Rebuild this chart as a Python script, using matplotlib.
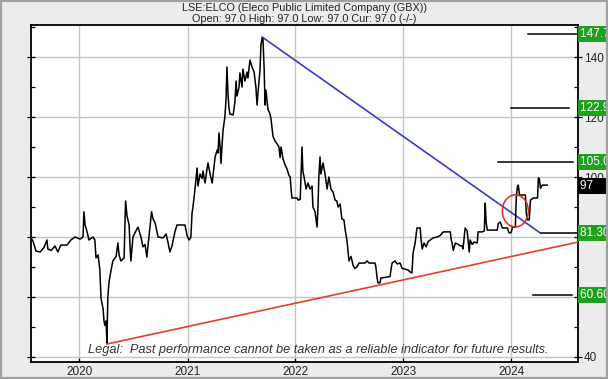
import matplotlib
matplotlib.use("Agg")
import matplotlib.pyplot as plt
import matplotlib.dates as mdates
from matplotlib.patches import Ellipse, Rectangle
from matplotlib.ticker import FixedLocator, MultipleLocator
import pandas as pd

plt.rcParams['font.family'] = ['Liberation Sans', 'DejaVu Sans']

title = "LSE:ELCO (Eleco Public Limited Company (GBX))"
subtitle = "Open: 97.0 High: 97.0 Low: 97.0 Cur: 97.0 (-/-)"
legal = "Legal:  Past performance cannot be taken as a reliable indicator for future results."

price_dates = [
    "2019-07-21", "2019-07-28", "2019-08-07", "2019-08-21", "2019-09-03", "2019-09-13", "2019-09-16",
    "2019-09-27", "2019-10-10", "2019-10-20", "2019-10-30", "2019-11-20", "2019-12-03", "2019-12-17",
    "2020-01-03", "2020-01-13", "2020-01-16", "2020-01-20", "2020-01-26", "2020-02-02", "2020-02-16",
    "2020-02-22", "2020-02-26", "2020-03-04", "2020-03-10", "2020-03-14", "2020-03-21", "2020-03-24",
    "2020-03-27", "2020-03-31", "2020-04-03", "2020-04-06", "2020-04-10", "2020-04-17", "2020-04-23",
    "2020-05-04", "2020-05-10", "2020-05-14", "2020-05-20", "2020-05-31", "2020-06-05", "2020-06-10",
    "2020-06-17", "2020-06-20", "2020-06-23", "2020-06-30", "2020-07-10", "2020-07-17", "2020-07-27",
    "2020-08-03", "2020-08-10", "2020-08-16", "2020-08-23", "2020-09-01", "2020-09-06", "2020-09-13",
    "2020-09-23", "2020-10-10", "2020-10-20", "2020-10-27", "2020-11-02", "2020-11-09", "2020-11-19",
    "2020-11-26", "2020-12-23", "2020-12-30", "2021-01-06", "2021-01-12", "2021-01-16", "2021-01-19",
    "2021-01-26", "2021-02-02", "2021-02-05", "2021-02-12", "2021-02-19", "2021-02-22", "2021-03-01",
    "2021-03-08", "2021-03-11", "2021-03-18", "2021-03-25", "2021-03-28", "2021-04-04", "2021-04-11",
    "2021-04-14", "2021-04-17", "2021-04-21", "2021-04-24", "2021-04-27", "2021-05-01", "2021-05-07",
    "2021-05-11", "2021-05-14", "2021-05-18", "2021-05-21", "2021-05-24", "2021-06-04", "2021-06-10",
    "2021-06-14", "2021-06-17", "2021-06-24", "2021-06-27", "2021-07-04", "2021-07-07", "2021-07-14",
    "2021-07-21", "2021-07-24", "2021-07-31", "2021-08-07", "2021-08-14", "2021-08-20", "2021-08-24",
    "2021-08-27", "2021-09-03", "2021-09-06", "2021-09-10", "2021-09-13", "2021-09-17", "2021-09-20",
    "2021-09-23", "2021-09-27", "2021-09-30", "2021-10-07", "2021-10-10", "2021-10-14", "2021-10-17",
    "2021-10-24", "2021-10-31", "2021-11-06", "2021-11-10", "2021-11-13", "2021-11-20", "2021-11-27",
    "2021-12-04", "2021-12-10", "2021-12-14", "2021-12-17", "2021-12-20", "2022-01-06", "2022-01-10",
    "2022-01-17", "2022-01-23", "2022-01-26", "2022-01-30", "2022-02-06", "2022-02-12", "2022-02-19",
    "2022-02-26", "2022-03-01", "2022-03-08", "2022-03-15", "2022-03-18", "2022-03-21", "2022-03-25",
    "2022-03-28", "2022-04-04", "2022-04-11", "2022-04-18", "2022-04-24", "2022-05-01", "2022-05-08",
    "2022-05-15", "2022-05-21", "2022-05-25", "2022-06-01", "2022-06-07", "2022-06-14", "2022-06-18",
    "2022-06-24", "2022-06-28", "2022-07-01", "2022-07-08", "2022-07-15", "2022-07-21", "2022-07-28",
    "2022-08-04", "2022-08-24", "2022-08-31", "2022-09-07", "2022-09-27", "2022-09-30", "2022-10-04",
    "2022-10-07", "2022-10-14", "2022-10-17", "2022-11-17", "2022-11-20", "2022-11-24", "2022-12-04",
    "2022-12-11", "2022-12-21", "2022-12-28", "2023-01-17", "2023-01-24", "2023-01-30", "2023-02-03",
    "2023-02-10", "2023-02-16", "2023-02-27", "2023-03-02", "2023-03-06", "2023-03-12", "2023-03-19",
    "2023-03-26", "2023-04-02", "2023-04-12", "2023-04-26", "2023-05-06", "2023-05-16", "2023-06-09",
    "2023-06-12", "2023-06-15", "2023-06-19", "2023-06-26", "2023-07-06", "2023-07-13", "2023-07-19",
    "2023-07-22", "2023-07-29", "2023-08-05", "2023-08-09", "2023-08-12", "2023-08-15", "2023-08-22",
    "2023-08-29", "2023-09-08", "2023-09-11", "2023-09-25", "2023-10-02", "2023-10-05", "2023-10-08",
    "2023-10-12", "2023-11-15", "2023-11-18", "2023-11-25", "2023-12-02", "2023-12-19", "2023-12-25",
    "2024-01-01", "2024-01-05", "2024-01-15", "2024-01-18", "2024-01-22", "2024-01-25", "2024-01-29",
    "2024-02-18", "2024-02-21", "2024-02-25", "2024-03-02", "2024-03-06", "2024-03-16", "2024-03-30",
    "2024-04-02", "2024-04-05", "2024-04-09", "2024-04-15", "2024-05-02",
]
price_values = [
    79.7, 78.5, 75.3, 75.0, 76.5, 79.0, 76.0,
    75.5, 77.0, 75.0, 77.3, 77.3, 79.0, 80.0,
    79.3, 80.0, 88.4, 84.0, 82.0, 79.0, 80.0,
    79.0, 73.0, 74.0, 69.0, 59.5, 56.0, 52.0,
    50.5, 52.0, 44.7, 60.0, 65.0, 69.0, 72.0,
    73.5, 78.0, 74.0, 72.0, 73.0, 92.0, 87.0,
    84.0, 77.0, 72.0, 80.0, 82.0, 83.3, 80.0,
    76.7, 77.5, 73.3, 80.0, 88.4, 86.0, 84.7,
    80.0, 79.7, 81.0, 78.0, 75.0, 77.0, 81.7,
    84.0, 84.0, 80.5, 79.0, 80.0, 88.0, 90.0,
    96.0, 103.0, 97.0, 101.0, 99.5, 102.0, 98.0,
    103.0, 104.7, 101.0, 98.0, 100.5, 106.7, 109.0,
    108.0, 114.7, 110.0, 104.5, 110.0, 115.7, 120.0,
    126.0, 136.7, 127.0, 123.0, 121.0, 120.7, 125.0,
    132.0, 127.0, 130.0, 134.7, 130.0, 136.0, 132.0,
    135.0, 133.0, 139.0, 136.7, 135.0, 130.0, 124.0,
    128.0, 135.7, 144.0, 146.3, 146.0, 136.0, 124.0,
    129.0, 125.0, 122.5, 121.0, 119.5, 116.0, 113.5,
    112.0, 111.0, 110.0, 106.5, 110.0, 106.0, 104.0,
    102.5, 100.5, 100.0, 96.0, 93.0, 93.0, 92.3,
    92.5, 110.0, 102.0, 100.0, 96.0, 98.0, 96.0,
    97.0, 90.0, 88.5, 83.3, 90.0, 100.0, 106.7,
    101.0, 104.7, 101.0, 96.0, 100.0, 96.0, 95.0,
    92.3, 92.0, 90.0, 91.0, 86.0, 85.7, 82.5,
    79.0, 75.0, 72.0, 73.5, 70.5, 69.5, 70.0,
    71.3, 71.3, 72.0, 71.3, 71.3, 70.0, 66.5,
    64.7, 64.7, 66.3, 66.8, 69.0, 71.3, 72.0,
    71.0, 71.3, 69.5, 69.0, 68.3, 68.0, 74.7,
    78.0, 83.0, 83.0, 79.0, 76.0, 78.0, 76.7,
    78.5, 79.0, 79.7, 80.0, 80.5, 81.7, 81.7,
    79.0, 78.0, 75.5, 78.0, 77.5, 77.0, 77.0,
    76.0, 83.0, 82.0, 78.0, 75.0, 79.0, 77.5,
    78.3, 78.0, 81.7, 81.7, 82.0, 91.3, 85.0,
    82.3, 82.3, 84.5, 85.0, 83.0, 83.0, 81.3,
    81.5, 83.3, 83.3, 93.0, 96.7, 97.3, 94.0,
    94.0, 88.0, 85.7, 85.7, 92.3, 93.0, 93.0,
    99.7, 99.5, 96.3, 97.3, 97.3,
]

blue_dates = ["2021-09-10", "2024-04-09"]
blue_values = [146.7, 81.3]
red_dates = ["2020-04-03", "2024-08-14"]
red_values = [44.3, 78.3]

target_values = [147.7, 122.9, 105.0, 81.3, 60.6]
target_labels = ["147.7", "122.9", "105.0", "81.30", "60.60"]
target_start = ["2024-02-27", "2024-01-01", "2023-11-17", "2024-04-11", "2024-03-15"]
target_end = ["2024-08-14", "2024-07-15", "2024-07-28", "2024-08-13", "2024-07-25"]

current_value = 97.0
current_label = "97"

circle_date = "2024-01-15"
circle_value = 88.7

year_ticks = ["2020-01-01", "2021-01-01", "2022-01-01", "2023-01-01", "2024-01-01"]
year_labels = ["2020", "2021", "2022", "2023", "2024"]
y_ticks = [40, 60, 80, 100, 120, 140]
y_tick_labels = ["40", "", "", "100", "120", "140"]
x_range = ["2019-07-21", "2024-08-14"]
y_range = [38.3, 150.7]

fig = plt.figure(figsize=(6.08, 3.79), dpi=100)
fig.patch.set_facecolor('#ececec')
fig.patches.append(Rectangle((0, 0), 1, 1, transform=fig.transFigure, fill=False,
                             ec='#a0a0a0', lw=3, zorder=0))

ax = fig.add_axes([31 / 608, 1 - 362 / 379, 547 / 608, 337 / 379])
ax.set_facecolor('white')

d = pd.to_datetime(price_dates)
ax.plot(d, price_values, color='black', lw=1.1, zorder=4)

ax.plot(pd.to_datetime(blue_dates), blue_values, color='#3a3acb', lw=1.2, zorder=3)
ax.plot(pd.to_datetime(red_dates), red_values, color='#e0402c', lw=1.2, zorder=3)

for v, s, e in zip(target_values, target_start, target_end):
    ax.plot(pd.to_datetime([s, e]), [v, v], color='black', lw=1.1, zorder=3)

cx = mdates.date2num(pd.Timestamp(circle_date))
ax.add_patch(Ellipse((cx, circle_value), width=88, height=10.7, fill=False,
                     ec='#e02a20', lw=1.1, zorder=5))

ax.set_xlim(pd.to_datetime(x_range))
ax.set_ylim(y_range)

ax.set_xticks(pd.to_datetime(year_ticks))
ax.set_xticklabels(year_labels, fontsize=8.5, color='#222222')
ax.set_yticks(y_ticks)
ax.set_yticklabels(y_tick_labels)
ax.yaxis.set_minor_locator(MultipleLocator(10))
ax.grid(True, which='major', color='#c4c4c4', lw=1.0)
ax.set_axisbelow(True)
ax.tick_params(axis='y', which='major', left=True, right=True, labelleft=False, labelright=True,
               direction='inout', length=6, width=0.9, labelsize=8.5, labelcolor='#222222', pad=1)
ax.tick_params(axis='y', which='minor', left=True, right=True, direction='in', length=3, width=0.9)
ax.tick_params(axis='x', which='major', direction='in', length=3, width=0.9, pad=3)
for sp in ax.spines.values():
    sp.set_linewidth(1.3)
    sp.set_color('black')

trans = ax.get_yaxis_transform()
for v, lab in zip(target_values, target_labels):
    ax.text(1.004, v, lab + " ", transform=trans, ha='left', va='center', fontsize=8.5, color='white',
            clip_on=False, zorder=6,
            bbox=dict(boxstyle='square,pad=0.18', fc='#1fa01f', ec='none'))
ax.text(1.004, current_value, current_label + "       ", transform=trans, ha='left', va='center',
        fontsize=8.5, color='white', clip_on=False, zorder=6,
        bbox=dict(boxstyle='square,pad=0.18', fc='black', ec='none'))

fig.text(0.5, 1 - 8 / 379, title, ha='center', va='center', fontsize=7.8, color='#222222')
fig.text(0.5, 1 - 19.5 / 379, subtitle, ha='center', va='center', fontsize=7.8, color='#222222')
ax.text(0.526, 0.035, legal, transform=ax.transAxes, ha='center', va='center', fontsize=9.2,
        style='italic', color='#333333', zorder=7)

fig.savefig('out.png', dpi=100, facecolor=fig.get_facecolor())
